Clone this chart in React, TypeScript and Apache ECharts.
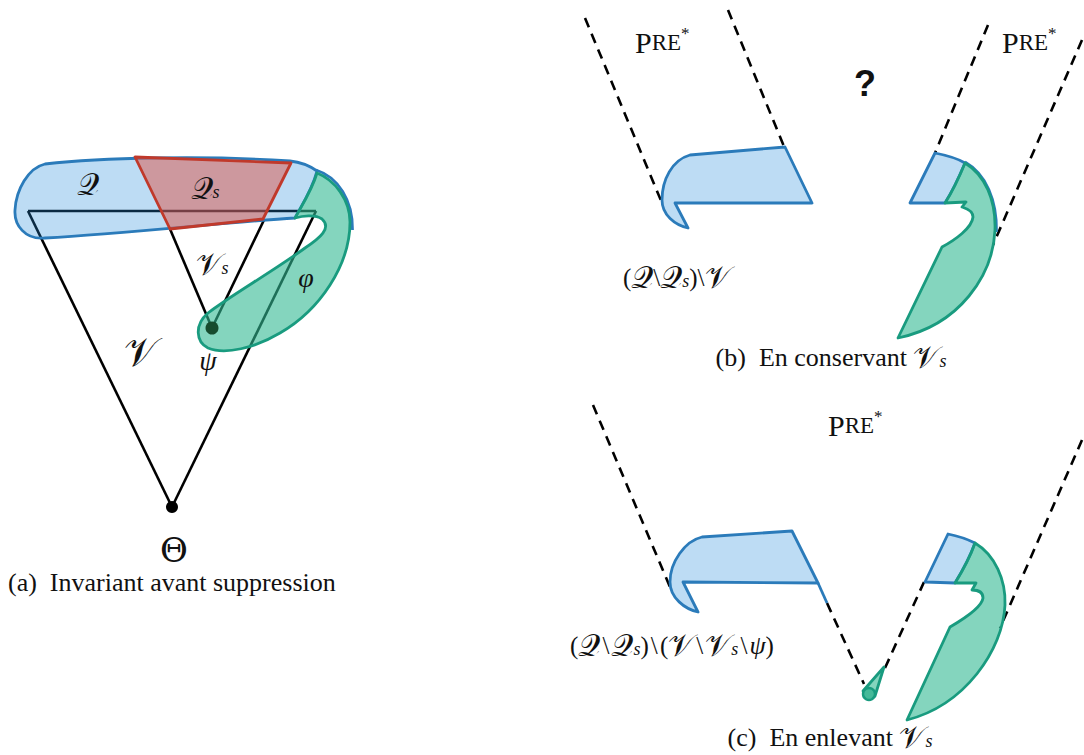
import React, { useEffect, useRef } from "react";
import * as echarts from "echarts";

const BLUE = "#2b7bba";
const BLUE_FILL = "rgba(38,138,218,0.3)";
const RED = "#c0392b";
const RED_FILL = "rgba(222,84,72,0.5)";
const GREEN = "#199b7f";
const GREEN_FILL = "rgba(50,185,147,0.6)";
const SERIF = "'Liberation Serif', 'DejaVu Serif', serif";

// Panel (a): solid black lines [x1, y1, x2, y2]
const solidLinesA = [
  [28, 211, 316, 211],
  [28, 211, 172, 507],
  [316, 211, 172, 507],
  [170, 229, 212, 328],
  [264, 220, 212, 328],
];

// Filled regions: name, path, kind
const regionNames = ["qBlob", "qsTrap", "phiA", "bLeft", "bRightBlue", "bRightGreen", "cLeft", "cRightBlue", "cRightGreen", "cTear"];
const regionPaths = [
  "M 45 164 C 100 158 200 155 290 161 C 300 162 310 166 317 171 C 312 190 302 205 295 218 C 230 222 130 233 45 238 C 25 240 14 225 15 210 C 16 190 28 168 45 164 Z",
  "M 135 157 L 291 163 L 263 219 L 170 229 Z",
  "M 317 173 C 335 180 350 200 350 222 C 350 265 320 310 280 333 C 255 348 225 355 208 348 C 196 342 194 325 208 313 C 230 296 275 270 305 248 C 320 238 332 228 322 219 C 315 214 302 216 295 218 C 302 205 312 190 317 173 Z",
  "M 690 155 L 785 147 L 812 203 L 675 203 L 688 228 C 675 225 662 215 662 200 C 662 180 672 160 690 155 Z",
  "M 935 153 C 945 155 957 158 965 163 C 960 175 952 192 945 203 L 910 203 Z",
  "M 965 163 C 985 175 996 200 995 230 C 993 275 960 325 898 338 L 942 247 C 955 240 972 228 973 217 C 973 210 965 208 962 207 L 966 202 L 945 203 C 952 192 960 175 965 163 Z",
  "M 702 537 L 792 531 L 818 583 L 683 582 L 698 612 C 685 609 670 598 670 582 C 670 562 685 541 702 537 Z",
  "M 948 534 C 958 536 967 539 975 543 C 970 557 963 570 955 583 L 925 582 Z",
  "M 975 543 C 995 555 1006 580 1005 605 C 1003 650 965 705 907 720 L 950 627 C 962 620 982 607 983 598 C 983 590 975 590 972 590 L 976 583 L 955 583 C 963 570 970 557 975 543 Z",
  "M 884 667 L 875 696 L 863 691 Z",
];
const regionKinds = ["blue", "red", "green", "blue", "blue", "green", "blue", "blue", "green", "green"];

// Blue outlines running along the outside of green regions (stroke only)
const blueEdgeNames = ["qEdge", "bEdge"];
const blueEdgePaths = [
  "M 316 170 C 338 177 353 200 352.5 230",
  "M 965 162 C 986 174 997 200 996.5 232",
];
const blueSegments = [[818, 583, 827, 603]];

// Dashed lines (panels b and c)
const dashedLines = [
  [585, 18, 662, 203],
  [728, 10, 785, 149],
  [988, 25, 935, 153],
  [1082, 40, 993, 245],
  [593, 405, 670, 587],
  [827, 603, 864, 684],
  [885, 668, 924, 582],
  [1082, 440, 1000, 628],
];

// Dots: x, y, r, colour
const dots = [
  [172, 507, 6, "#000000"],
  [212, 328, 6.5, "#174b2e"],
];

const HS = "\u200A";
// Rich labels: text, x, y, align
const labelTexts = [
  "{S|𝒬}",
  "{S|𝒬}{sub|s}",
  "{S|𝒱}{sub|s}",
  "{n|(a)  Invariant avant suppression}",
  "{p|P}{r|RE}{st|*}",
  "{p|P}{r|RE}{st|*}",
  "{q|?}",
  "{m|(}{S|𝒬}{m|\\}{S|𝒬}{sub|s}{m|)\\}{S|𝒱}",
  "{n|(b)  En conservant }{S|𝒱}{sub|s}",
  "{p|P}{r|RE}{st|*}",
  `{m|(}{S|𝒬}{m|${HS}\\${HS}}{S|𝒬}{sub|s}{m|)${HS}\\${HS}(}{S|𝒱}{m|${HS}\\${HS}}{S|𝒱}{sub|s}{m|${HS}\\${HS}}{i|ψ}{m|)}`,
  "{n|(c)  En enlevant }{S|𝒱}{sub|s}",
];
const labelX = [88, 205, 212, 8, 635, 1002, 865, 623, 831, 828, 570, 830];
const labelY = [184, 188, 264, 582, 42, 42, 83, 277, 357, 425, 645, 737];
const labelAlign = ["center", "center", "center", "left", "left", "left", "center", "left", "center", "left", "left", "center"];

// Plain glyph labels: text, x, y, size, style
const glyphTexts = ["φ", "𝒱", "ψ", "Θ"];
const glyphX = [306, 140, 208, 174];
const glyphY = [277, 352, 360, 550];
const glyphSizes = [28, 40, 28, 34];
const glyphStyles = ["italic", "normal", "italic", "normal"];

const rich = {
  n: { fontFamily: SERIF, fontSize: 26, lineHeight: 26, fill: "#111" },
  m: { fontFamily: SERIF, fontSize: 25, lineHeight: 26, fill: "#111" },
  S: { fontFamily: SERIF, fontSize: 31, lineHeight: 26, fill: "#111" },
  sub: { fontFamily: SERIF, fontSize: 18, fontStyle: "italic", lineHeight: 7, verticalAlign: "bottom", fill: "#111" },
  i: { fontFamily: SERIF, fontSize: 26, fontStyle: "italic", lineHeight: 26, fill: "#111" },
  p: { fontFamily: SERIF, fontSize: 30, lineHeight: 34, fill: "#111" },
  r: { fontFamily: SERIF, fontSize: 23, lineHeight: 34, fill: "#111" },
  st: { fontFamily: SERIF, fontSize: 17, lineHeight: 14, verticalAlign: "top", fill: "#111" },
  q: { fontFamily: "'Liberation Sans', Arial, sans-serif", fontSize: 36, fontWeight: "bold", lineHeight: 38, fill: "#111" },
};

export default function App() {
  const ref = useRef<HTMLDivElement>(null);
  useEffect(() => {
    if (!ref.current) return;
    regionNames.forEach((n, i) => {
      echarts.graphic.registerShape(n, echarts.graphic.extendPath(regionPaths[i], {}));
    });
    blueEdgeNames.forEach((n, i) => {
      echarts.graphic.registerShape(n, echarts.graphic.extendPath(blueEdgePaths[i], {}));
    });
    const chart = echarts.init(ref.current, null, { renderer: "svg" });
    const elements: any[] = [];
    solidLinesA.forEach((l) =>
      elements.push({ type: "line", shape: { x1: l[0], y1: l[1], x2: l[2], y2: l[3] }, style: { stroke: "#000", lineWidth: 2.6 } })
    );
    dashedLines.forEach((l) =>
      elements.push({ type: "line", shape: { x1: l[0], y1: l[1], x2: l[2], y2: l[3] }, style: { stroke: "#000", lineWidth: 2.6, lineDash: [10, 7] } })
    );
    elements.push({ type: "circle", shape: { cx: dots[0][0], cy: dots[0][1], r: dots[0][2] }, style: { fill: dots[0][3] as string } });
    blueEdgeNames.forEach((n) =>
      elements.push({ type: n, x: 0, y: 0, style: { fill: "none", stroke: BLUE, lineWidth: 2.8 } })
    );
    regionNames.forEach((n, i) => {
      const k = regionKinds[i];
      elements.push({
        type: n,
        x: 0,
        y: 0,
        style: {
          fill: k === "blue" ? BLUE_FILL : k === "red" ? RED_FILL : GREEN_FILL,
          stroke: k === "blue" ? BLUE : k === "red" ? RED : GREEN,
          lineWidth: 2.8,
          lineJoin: "round",
        },
      });
    });
    elements.push({ type: "circle", shape: { cx: 869, cy: 694, r: 6 }, style: { fill: "#45b999", stroke: GREEN, lineWidth: 2.4 } });
    blueSegments.forEach((l) =>
      elements.push({ type: "line", shape: { x1: l[0], y1: l[1], x2: l[2], y2: l[3] }, style: { stroke: BLUE, lineWidth: 2.8 } })
    );
    elements.push({ type: "circle", shape: { cx: dots[1][0], cy: dots[1][1], r: dots[1][2] }, style: { fill: dots[1][3] as string } });
    labelTexts.forEach((t, i) =>
      elements.push({
        type: "text",
        x: labelX[i],
        y: labelY[i],
        style: { text: t, rich, align: labelAlign[i], verticalAlign: "middle", fill: "#111", fontSize: 24, fontFamily: SERIF },
      })
    );
    glyphTexts.forEach((t, i) =>
      elements.push({
        type: "text",
        x: glyphX[i],
        y: glyphY[i],
        style: {
          text: t,
          align: "center",
          verticalAlign: "middle",
          fill: "#111",
          fontSize: glyphSizes[i],
          fontStyle: glyphStyles[i],
          fontFamily: i === 3 ? "'DejaVu Serif', serif" : SERIF,
        },
      })
    );
    chart.setOption({ animation: false, backgroundColor: "#ffffff", graphic: { elements } });
    return () => chart.dispose();
  }, []);
  return <div ref={ref} style={{ position: "absolute", left: 0, top: 0, width: 1084, height: 755 }} />;
}
